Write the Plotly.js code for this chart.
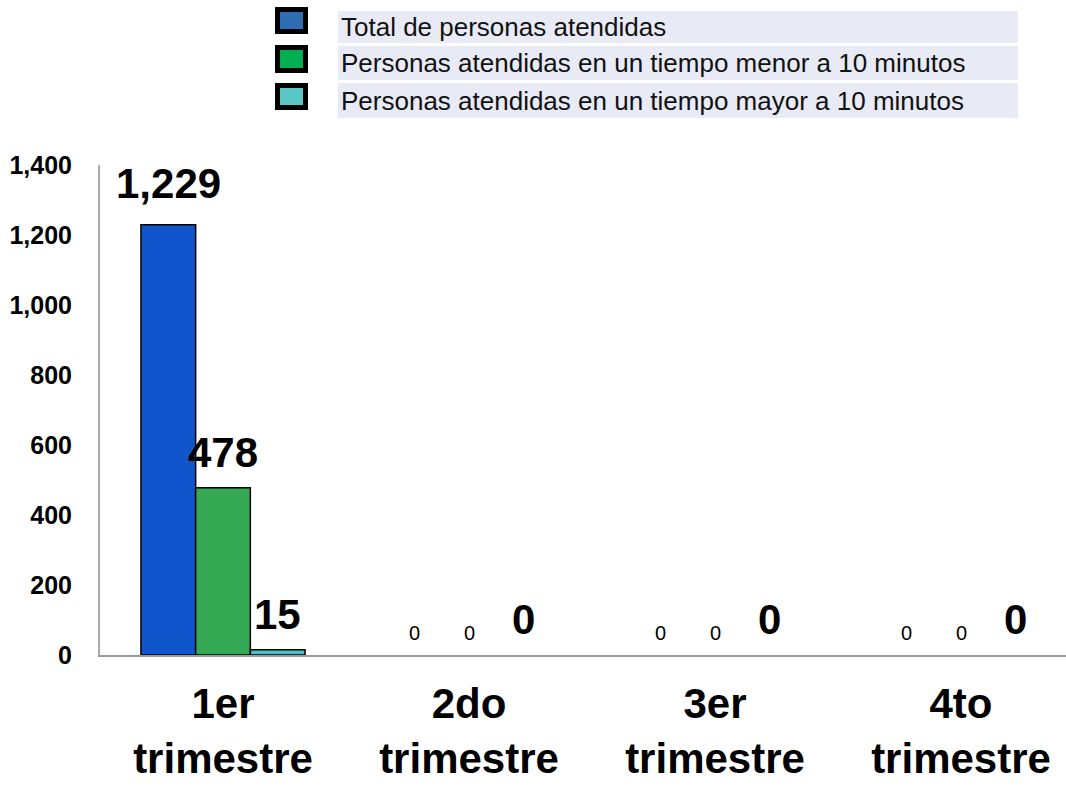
<!DOCTYPE html>
<html>
<head>
<meta charset="utf-8">
<script src="https://cdn.plot.ly/plotly-3.0.1.min.js"></script>
<style>html,body{margin:0;padding:0;background:#fff;}#chart{width:1066px;height:786px;}</style>
</head>
<body>
<div id="chart"></div>
<script>
// ---- data ----
var categories = ["1er<br>trimestre", "2do<br>trimestre", "3er<br>trimestre", "4to<br>trimestre"];
var seriesNames = [
  "Total de personas atendidas",
  "Personas atendidas en un tiempo menor a 10 minutos",
  "Personas atendidas en un tiempo mayor a 10 minutos"
];
var totalAtendidas = [1229, 0, 0, 0];
var menor10 = [478, 0, 0, 0];
var mayor10 = [15, 0, 0, 0];
var yTickValues = [0, 200, 400, 600, 800, 1000, 1200, 1400];

// ---- styles ----
var seriesValues = [totalAtendidas, menor10, mayor10];
var barColors = ["#1155CC", "#34A853", "#4CBFC8"];
var legendColors = ["#2E6DB4", "#00B050", "#5BC6C6"];
var bigZeroLabel = [false, false, true];
var labelShift = [16, 10, 10];

var W = 1066, H = 786;
var mL = 100, mR = 0, mT = 165, mB = 131;
var bargap = 0.333;
var xMax = -0.5 + (W - mL) / 246;
function px2x(px) { return (px - mL) / (W - mL - mR); }
function py2y(py) { return (H - mB - py) / (H - mT - mB); }

var traces = seriesValues.map(function (vals, i) {
  return {
    type: "bar",
    name: seriesNames[i],
    x: categories,
    y: vals,
    marker: {
      color: barColors[i],
      line: { color: "#000000", width: vals.map(function (v) { return v > 0 ? 1.5 : 0; }) }
    },
    hoverinfo: "none",
    showlegend: false
  };
});

var annotations = [];
var shapes = [];
var barW = (1 - bargap) / seriesValues.length;

// value labels
seriesValues.forEach(function (vals, i) {
  vals.forEach(function (v, c) {
    var big = v > 0 || bigZeroLabel[i];
    annotations.push({
      xref: "x", yref: "y",
      x: c + (i - 1) * barW, y: v,
      text: v.toLocaleString("en-US"),
      showarrow: false,
      xanchor: "center", yanchor: "bottom",
      yshift: big ? (v > 0 ? labelShift[i] : 10) : 9,
      font: big
        ? { family: "Liberation Sans, Arial, sans-serif", size: 42, color: "#000", weight: "bold" }
        : { family: "Liberation Sans Narrow, Liberation Sans, Arial, sans-serif", size: 20, color: "#000" }
    });
  });
});

// custom legend
var bandTop = [11, 46, 83], bandBot = [43, 80, 118];
var sqTop = [9.5, 47.5, 85.5], sqBot = [31.5, 70.5, 107.5];
seriesNames.forEach(function (name, i) {
  shapes.push({
    type: "rect", xref: "paper", yref: "paper", layer: "below",
    x0: px2x(338), x1: px2x(1018), y0: py2y(bandBot[i]), y1: py2y(bandTop[i]),
    fillcolor: "#E8EBF5", line: { width: 0 }
  });
  shapes.push({
    type: "rect", xref: "paper", yref: "paper",
    x0: px2x(277.5), x1: px2x(305.5), y0: py2y(sqBot[i]), y1: py2y(sqTop[i]),
    fillcolor: legendColors[i], line: { color: "#000000", width: 5 }
  });
  annotations.push({
    xref: "paper", yref: "paper",
    x: px2x(339), y: py2y((bandTop[i] + bandBot[i]) / 2),
    xanchor: "left", yanchor: "middle",
    text: name, showarrow: false,
    font: { family: "Liberation Sans, Arial, sans-serif", size: 26, color: "#111" }
  });
});

var layout = {
  width: W, height: H,
  margin: { l: mL, r: mR, t: mT, b: mB, pad: 0 },
  paper_bgcolor: "#ffffff", plot_bgcolor: "#ffffff",
  barmode: "group", bargap: bargap, bargroupgap: 0,
  showlegend: false,
  xaxis: {
    type: "category",
    range: [-0.5, xMax],
    showgrid: false, zeroline: false,
    showline: true, linecolor: "#999999", linewidth: 2,
    ticks: "", ticklabelstandoff: 11,
    tickfont: { family: "Liberation Sans, Arial, sans-serif", size: 42, color: "#000", weight: "bold" },
    fixedrange: true
  },
  yaxis: {
    range: [0, 1400],
    tickvals: yTickValues,
    tickformat: ",",
    showgrid: false, zeroline: false,
    showline: true, linecolor: "#aaaaaa", linewidth: 2,
    ticks: "", ticklabelstandoff: 21,
    tickfont: { family: "Liberation Sans, Arial, sans-serif", size: 25, color: "#000", weight: "bold" },
    fixedrange: true
  },
  annotations: annotations,
  shapes: shapes
};

Plotly.newPlot("chart", traces, layout, { displayModeBar: false, staticPlot: true });
</script>
</body>
</html>
